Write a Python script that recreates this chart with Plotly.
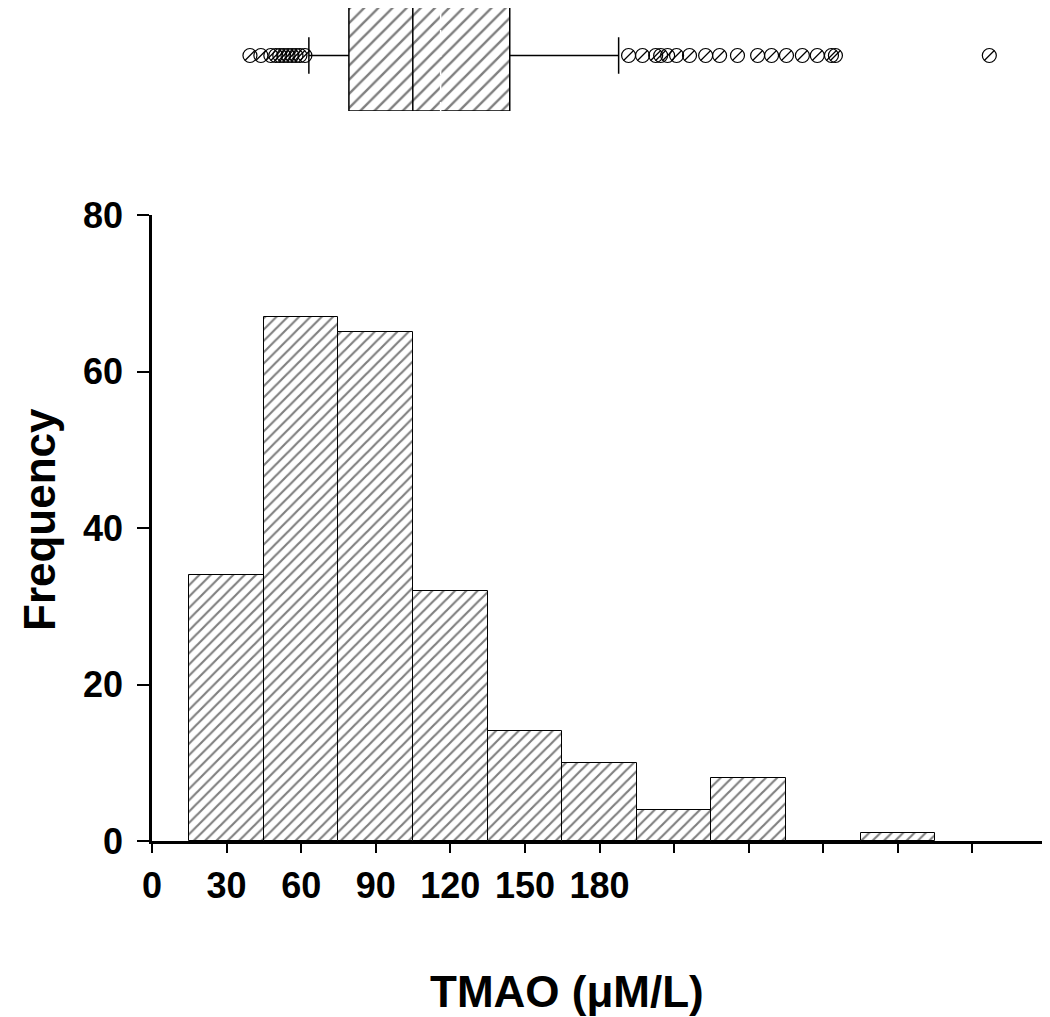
import plotly.graph_objects as go

# ---------------- data ----------------
bin_centers = [30, 60, 90, 120, 150, 180, 210, 240, 270, 300]
frequency = [34, 67, 65, 32, 14, 10, 4, 8, 0, 1]
bin_width = 30

x_tickvals = [0, 30, 60, 90, 120, 150, 180, 210, 240, 270, 300, 330, 360]
x_ticktext = ["0", "30", "60", "90", "120", "150", "180", "", "", "", "", "", ""]
y_tickvals = [0, 20, 40, 60, 80]

# box plot summary (TMAO, µM/L)
box_q1 = 79.2
box_median = 104.9
box_mean = 116.1
box_q3 = 143.9
box_lower_fence = 63.1
box_upper_fence = 187.7
outliers = [39.4, 43.8, 47.8, 49.8, 51.4, 53.0, 54.7, 56.3, 57.9, 59.5, 61.5,
            191.7, 197.3, 202.6, 204.6, 207.4, 211.0, 216.2, 222.7, 228.3,
            235.5, 243.6, 249.2, 255.2, 261.6, 267.6, 273.3, 274.9, 336.8]

# the page adds an 8px body margin, so the figure is laid out 8px smaller
OFF = 8
W, H = 1050 - OFF, 1017 - OFF
FONT = "Liberation Sans, Arial, sans-serif"


def px_x(p):
    return (p - OFF) / W


def px_y(p):
    return 1 - (p - OFF) / H


fig = go.Figure()

# histogram bars
fig.add_trace(go.Bar(
    x=bin_centers, y=frequency, width=bin_width,
    marker=dict(color="white", line=dict(color="black", width=1),
                pattern=dict(shape="/", fgcolor="black", bgcolor="white",
                             size=8, solidity=0.27)),
    showlegend=False, hoverinfo="x+y",
))

# hatched box body (two halves around the median)
fig.add_trace(go.Bar(
    y=[0, 0], x=[box_median - box_q1, box_q3 - box_median],
    base=[box_q1, box_median], orientation="h", width=1,
    xaxis="x", yaxis="y2",
    marker=dict(color="white", line=dict(color="black", width=0),
                pattern=dict(shape="/", fgcolor="black", bgcolor="white",
                             size=10, solidity=0.24)),
    showlegend=False, hoverinfo="skip",
))

# box outline / whiskers
fig.add_trace(go.Box(
    y=[0], q1=[box_q1], median=[box_median], q3=[box_q3],
    lowerfence=[box_lower_fence], upperfence=[box_upper_fence],
    orientation="h", xaxis="x", yaxis="y2", width=1, whiskerwidth=0.33,
    fillcolor="rgba(0,0,0,0)", line=dict(color="black", width=1.5),
    boxpoints=False, showlegend=False,
))

# outliers: open circle with a diagonal slash
fig.add_trace(go.Scatter(
    x=outliers, y=[0] * len(outliers), mode="markers", xaxis="x", yaxis="y2",
    marker=dict(symbol="circle-open", size=14, color="black",
                line=dict(width=1.2)),
    showlegend=False, hoverinfo="x",
))
fig.add_trace(go.Scatter(
    x=outliers, y=[0] * len(outliers), mode="markers", xaxis="x", yaxis="y2",
    marker=dict(symbol="line-ne", size=10, color="black",
                line=dict(width=1.2, color="black")),
    showlegend=False, hoverinfo="skip",
))

x_dom = [px_x(152), px_x(1047)]
y_dom = [px_y(841), px_y(215)]
# box spans page y 0..111 (center 55); its top sits above the figure edge
box_px = 111.0
y2_dom = [px_y(111), 1.0]
y2_range = [-0.5, -0.5 + (111 - OFF) / box_px]

fig.update_layout(
    width=W, height=H, autosize=False,
    margin=dict(l=0, r=0, t=0, b=0, pad=0, autoexpand=False),
    paper_bgcolor="white", plot_bgcolor="white",
    barmode="overlay", bargap=0, showlegend=False,
    font=dict(family=FONT, color="black"),
    xaxis=dict(
        domain=x_dom, range=[0, 360], anchor="y", automargin=False,
        tickmode="array", tickvals=x_tickvals, ticktext=x_ticktext,
        ticks="outside", ticklen=9, tickwidth=1.5, tickcolor="black",
        showline=True, linecolor="black", linewidth=2.5,
        showgrid=False, zeroline=False,
        tickfont=dict(family=FONT, size=36, weight="bold", color="black"),
        ticklabelstandoff=2,
    ),
    yaxis=dict(
        domain=y_dom, range=[0, 80], anchor="x", automargin=False,
        tickmode="array", tickvals=y_tickvals,
        ticks="outside", ticklen=12, tickwidth=1.5, tickcolor="black",
        showline=True, linecolor="black", linewidth=2.5,
        showgrid=False, zeroline=False,
        tickfont=dict(family=FONT, size=36, weight="bold", color="black"),
        ticklabelstandoff=7,
    ),
    yaxis2=dict(
        domain=y2_dom, range=y2_range, anchor="x", automargin=False,
        visible=False, showgrid=False, zeroline=False,
    ),
    shapes=[
        # mean line inside the box (white dashed)
        dict(type="line", xref="x", yref="y2 domain",
             x0=box_mean, x1=box_mean, y0=0, y1=1,
             line=dict(color="white", width=1.5, dash="dash")),
        # right-hand frame line
        dict(type="line", xref="x", yref="y",
             x0=360, x1=360, y0=0, y1=77,
             line=dict(color="black", width=3)),
    ],
    annotations=[
        dict(text="TMAO (μM/L)", xref="paper", yref="paper",
             x=px_x(567), y=px_y(991), xanchor="center", yanchor="middle",
             showarrow=False,
             font=dict(family=FONT, size=44, weight="bold", color="black")),
        dict(text="Frequency", xref="paper", yref="paper",
             x=px_x(39), y=px_y(520), xanchor="center", yanchor="middle",
             textangle=-90, showarrow=False,
             font=dict(family=FONT, size=44, weight="bold", color="black")),
    ],
)

fig.write_html("out.html")
